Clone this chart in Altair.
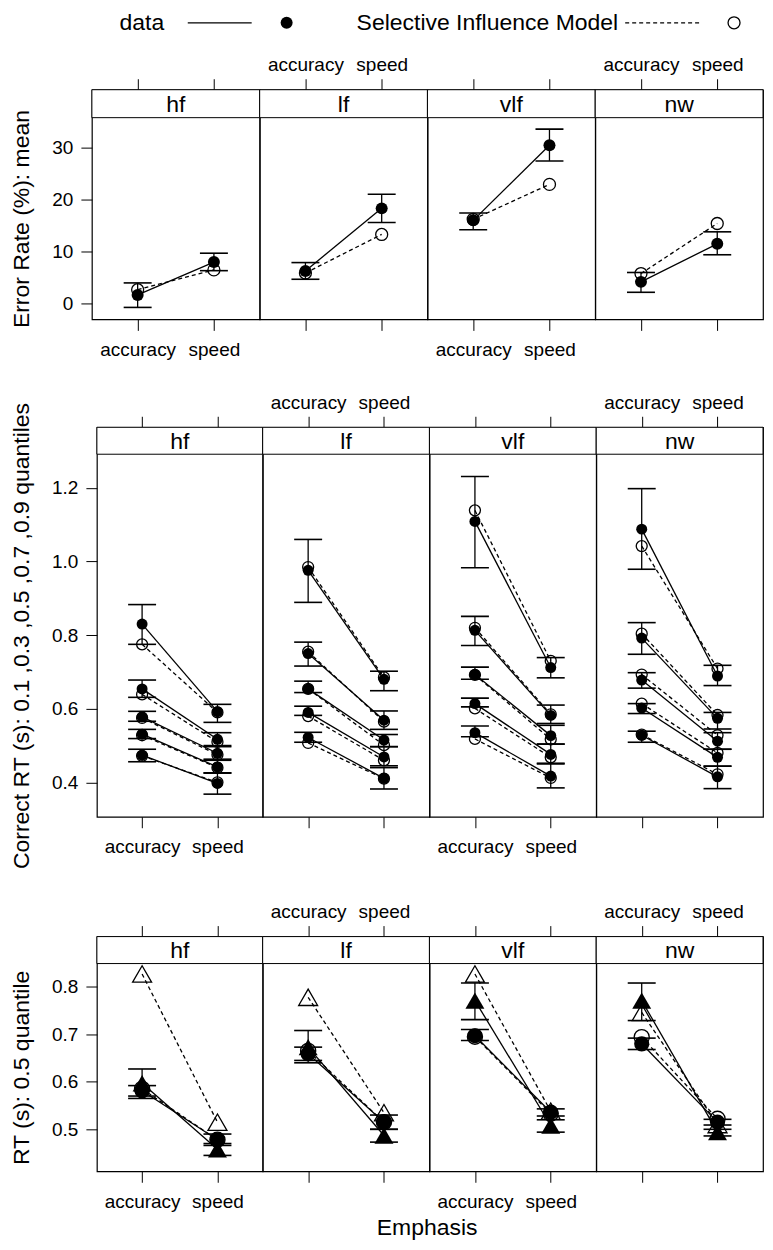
import altair as alt
import pandas as pd

# ---------------- categories and labels ----------------
PANELS = ["hf", "lf", "vlf", "nw"]
EMPHASIS = ["accuracy", "speed"]
QUANTILES = ["0.1", "0.3", "0.5", "0.7", "0.9"]
MEDIAN_SETS = ["set 1", "set 2"]          # drawn as circles / triangles
LEGEND_LABELS = ["data", "Selective Influence Model"]
Y_TITLES = ["Error Rate (%): mean",
            "Correct RT (s): 0.1 ,0.3 ,0.5 ,0.7 ,0.9 quantiles",
            "RT (s): 0.5 quantile"]
X_TITLE = "Emphasis"
ERR_TICKS = [0, 10, 20, 30]
RT_TICKS = [0.4, 0.6, 0.8, 1.0, 1.2]
MED_TICKS = [0.5, 0.6, 0.7, 0.8]

# ---------------- row 1: error rate (%) by panel ----------------
ERR_DATA_ACC = [1.7, 6.3, 16.0, 4.2]
ERR_DATA_SPD = [8.0, 18.3, 30.4, 11.5]
ERR_MODEL_ACC = [2.7, 5.9, 16.2, 5.8]
ERR_MODEL_SPD = [6.5, 13.3, 22.9, 15.4]
ERR_LO_ACC = [-0.7, 4.7, 14.2, 2.2]
ERR_HI_ACC = [4.0, 7.9, 17.4, 6.0]
ERR_LO_SPD = [6.35, 15.6, 27.4, 9.4]
ERR_HI_SPD = [9.7, 21.0, 33.5, 13.8]

# ---------------- row 2: correct RT quantiles (per panel, 0.1..0.9) ----------------
RT_DATA_ACC = [[0.474, 0.531, 0.578, 0.654, 0.830],
               [0.522, 0.590, 0.654, 0.750, 0.976],
               [0.535, 0.614, 0.693, 0.813, 1.109],
               [0.528, 0.602, 0.678, 0.792, 1.088]]
RT_DATA_SPD = [[0.397, 0.442, 0.479, 0.517, 0.592],
               [0.411, 0.469, 0.515, 0.569, 0.680],
               [0.417, 0.476, 0.527, 0.582, 0.712],
               [0.415, 0.468, 0.512, 0.574, 0.689]]
RT_MODEL_ACC = [[0.472, 0.528, 0.575, 0.639, 0.775],
                [0.507, 0.580, 0.654, 0.755, 0.985],
                [0.518, 0.601, 0.692, 0.820, 1.139],
                [0.530, 0.614, 0.693, 0.804, 1.042]]
RT_MODEL_SPD = [[0.400, 0.440, 0.475, 0.510, 0.590],
                [0.410, 0.460, 0.501, 0.565, 0.685],
                [0.412, 0.468, 0.517, 0.585, 0.730],
                [0.422, 0.480, 0.528, 0.583, 0.709]]
RT_LO_ACC = [[0.456, 0.519, 0.566, 0.631, 0.775],
             [0.509, 0.582, 0.644, 0.716, 0.889],
             [0.524, 0.605, 0.680, 0.772, 0.983],
             [0.509, 0.587, 0.656, 0.748, 0.979]]
RT_HI_ACC = [[0.490, 0.544, 0.593, 0.678, 0.883],
             [0.536, 0.607, 0.675, 0.781, 1.060],
             [0.553, 0.629, 0.713, 0.851, 1.231],
             [0.539, 0.614, 0.698, 0.834, 1.198]]
RT_LO_SPD = [[0.368, 0.425, 0.463, 0.500, 0.563],
             [0.382, 0.445, 0.497, 0.544, 0.649],
             [0.385, 0.452, 0.504, 0.560, 0.684],
             [0.383, 0.444, 0.490, 0.545, 0.663]]
RT_HI_SPD = [[0.426, 0.460, 0.497, 0.535, 0.612],
             [0.440, 0.497, 0.530, 0.594, 0.702],
             [0.450, 0.504, 0.555, 0.610, 0.739],
             [0.444, 0.490, 0.535, 0.590, 0.718]]

# ---------------- row 3: median RT (per set, per panel) ----------------
MED_DATA_ACC = [[0.581, 0.659, 0.697, 0.680], [0.597, 0.673, 0.771, 0.771]]
MED_DATA_SPD = [[0.478, 0.515, 0.536, 0.515], [0.458, 0.487, 0.508, 0.494]]
MED_MODEL_ACC = [[0.585, 0.665, 0.695, 0.694], [0.827, 0.778, 0.827, 0.746]]
MED_MODEL_SPD = [[0.478, 0.515, 0.533, 0.522], [0.515, 0.535, 0.538, 0.510]]
MED_LO_ACC = [[0.570, 0.645, 0.687, 0.668], [0.565, 0.640, 0.731, 0.729]]
MED_HI_ACC = [[0.592, 0.673, 0.710, 0.692], [0.627, 0.708, 0.808, 0.808]]
MED_LO_SPD = [[0.466, 0.500, 0.528, 0.509], [0.445, 0.473, 0.494, 0.486]]
MED_HI_SPD = [[0.490, 0.530, 0.543, 0.521], [0.470, 0.500, 0.520, 0.500]]


def rec(panel, emph, series, source, value, lo=None, hi=None):
    return dict(panel=panel, emphasis=emph, series=series, source=source,
                value=value, lo=lo, hi=hi)


r1 = []
for i, p in enumerate(PANELS):
    r1.append(rec(p, "accuracy", "mean", "data", ERR_DATA_ACC[i], ERR_LO_ACC[i], ERR_HI_ACC[i]))
    r1.append(rec(p, "speed", "mean", "data", ERR_DATA_SPD[i], ERR_LO_SPD[i], ERR_HI_SPD[i]))
    r1.append(rec(p, "accuracy", "mean", "model", ERR_MODEL_ACC[i]))
    r1.append(rec(p, "speed", "mean", "model", ERR_MODEL_SPD[i]))
df1 = pd.DataFrame(r1)

r2 = []
for i, p in enumerate(PANELS):
    for j, q in enumerate(QUANTILES):
        r2.append(rec(p, "accuracy", q, "data", RT_DATA_ACC[i][j], RT_LO_ACC[i][j], RT_HI_ACC[i][j]))
        r2.append(rec(p, "speed", q, "data", RT_DATA_SPD[i][j], RT_LO_SPD[i][j], RT_HI_SPD[i][j]))
        r2.append(rec(p, "accuracy", q, "model", RT_MODEL_ACC[i][j]))
        r2.append(rec(p, "speed", q, "model", RT_MODEL_SPD[i][j]))
df2 = pd.DataFrame(r2)

r3 = []
for k, s in enumerate(MEDIAN_SETS):
    for i, p in enumerate(PANELS):
        r3.append(rec(p, "accuracy", s, "data", MED_DATA_ACC[k][i], MED_LO_ACC[k][i], MED_HI_ACC[k][i]))
        r3.append(rec(p, "speed", s, "data", MED_DATA_SPD[k][i], MED_LO_SPD[k][i], MED_HI_SPD[k][i]))
        r3.append(rec(p, "accuracy", s, "model", MED_MODEL_ACC[k][i]))
        r3.append(rec(p, "speed", s, "model", MED_MODEL_SPD[k][i]))
df3 = pd.DataFrame(r3)

ROWS = [
    dict(df=df1, widths=[168, 168, 168, 168], height=230, strip=28,
         domain=[-3.0, 35.7], ticks=ERR_TICKS, fmt="d", ytitle=Y_TITLES[0],
         ext=41, tpad=17, size=144, shapes=False, spacer=0),
    dict(df=df2, widths=[166, 167, 167, 167], height=390, strip=27,
         domain=[0.3066, 1.2915], ticks=RT_TICKS, fmt=".1f", ytitle=Y_TITLES[1],
         ext=46, tpad=17, size=121, shapes=False, spacer=5),
    dict(df=df3, widths=[166, 167, 167, 167], height=235, strip=27,
         domain=[0.4116, 0.849], ticks=MED_TICKS, fmt=".1f", ytitle=Y_TITLES[2],
         ext=46, tpad=17, size=230, shapes=True, spacer=5),
]

LW = 1.3
TICK_LEN = 11
LABEL_FS = 19
BIG_FS = 23


def key_layers():
    """lattice-style key drawn above the first panel of the top row"""
    one = pd.DataFrame({"k": [0]})
    ly = -67
    return [
        alt.Chart(pd.DataFrame({"label": [LEGEND_LABELS[0]]})).mark_text(
            fontSize=BIG_FS, color="black").encode(text="label:N", x=alt.value(50), y=alt.value(ly)),
        alt.Chart(one).mark_rule(color="black", strokeWidth=LW).encode(
            x=alt.value(96), x2=alt.value(160), y=alt.value(ly)),
        alt.Chart(one).mark_point(filled=True, color="black", opacity=1, shape="circle", size=144).encode(
            x=alt.value(195), y=alt.value(ly)),
        alt.Chart(pd.DataFrame({"label": [LEGEND_LABELS[1]]})).mark_text(
            fontSize=BIG_FS, color="black").encode(text="label:N", x=alt.value(396), y=alt.value(ly)),
        alt.Chart(one).mark_rule(color="black", strokeWidth=LW, strokeDash=[4, 3]).encode(
            x=alt.value(534), x2=alt.value(611), y=alt.value(ly)),
        alt.Chart(one).mark_point(filled=False, color="black", opacity=1, strokeWidth=LW, shape="circle",
                                  size=144).encode(x=alt.value(643), y=alt.value(ly)),
    ]


def make_panel(cfg, idx, with_key=False):
    W = cfg["widths"][idx]
    H = cfg["height"]
    S = cfg["strip"]
    name = PANELS[idx]
    d = cfg["df"][cfg["df"]["panel"] == name]
    dd = d[d["source"] == "data"]
    mm = d[d["source"] == "model"]

    xs = alt.Scale(type="point", domain=EMPHASIS, padding=0.6)
    ys = alt.Scale(domain=cfg["domain"], range=[H, S], nice=False, zero=False)
    if idx == 0:
        yax = alt.Axis(orient="left", values=cfg["ticks"], format=cfg["fmt"],
                       title=cfg["ytitle"], titleFontSize=BIG_FS, titleFontWeight="normal",
                       titlePadding=cfg["tpad"], titleLimit=1000,
                       labelFontSize=LABEL_FS, labelPadding=8, labelOverlap=False,
                       tickSize=TICK_LEN, tickColor="black", tickWidth=1,
                       domain=False, grid=False,
                       minExtent=cfg["ext"], maxExtent=cfg["ext"])
    else:
        yax = None
    xb = alt.Axis(orient="bottom", title=None, labels=(idx % 2 == 0), labelAngle=0,
                  labelFontSize=LABEL_FS, labelPadding=10, labelOverlap=False,
                  tickSize=TICK_LEN, tickColor="black", tickWidth=1, domain=False, grid=False)
    xt = alt.Axis(orient="top", title=None, labels=(idx % 2 == 1), labelAngle=0,
                  labelFontSize=LABEL_FS, labelPadding=4, labelOverlap=False,
                  tickSize=TICK_LEN, tickColor="black", tickWidth=1, domain=False, grid=False)

    strip_df = pd.DataFrame({"panel": [name]})
    strip_rect = alt.Chart(strip_df).mark_rect(fill="white", stroke="black", strokeWidth=1).encode(
        x=alt.value(0), x2=alt.value(W), y=alt.value(0), y2=alt.value(S))
    strip_text = alt.Chart(strip_df).mark_text(fontSize=BIG_FS, color="black").encode(
        text="panel:N", x=alt.value(W / 2), y=alt.value(S / 2 + 1))

    err_rule = alt.Chart(dd).mark_rule(color="black", strokeWidth=LW).encode(
        x=alt.X("emphasis:N", scale=xs, axis=xb),
        y=alt.Y("lo:Q", scale=ys, axis=yax),
        y2="hi:Q")
    caps = alt.Chart(dd).transform_fold(["lo", "hi"], as_=["cap", "capval"]).mark_tick(
        color="black", size=28, thickness=1.6, orient="horizontal", opacity=1).encode(
        x=alt.X("emphasis:N", scale=xs, axis=xt),
        y=alt.Y("capval:Q", scale=ys, axis=yax))

    enc = dict(x=alt.X("emphasis:N", scale=xs, axis=None),
               y=alt.Y("value:Q", scale=ys, axis=yax),
               detail="series:N")
    model_line = alt.Chart(mm).mark_line(color="black", strokeWidth=LW, strokeDash=[4, 3]).encode(**enc)
    data_line = alt.Chart(dd).mark_line(color="black", strokeWidth=LW).encode(**enc)

    penc = dict(x=alt.X("emphasis:N", scale=xs, axis=None),
                y=alt.Y("value:Q", scale=ys, axis=yax))
    if cfg["shapes"]:
        penc["shape"] = alt.Shape("series:N", scale=alt.Scale(domain=MEDIAN_SETS,
                                  range=["circle", "triangle-up"]), legend=None)
        penc["size"] = alt.Size("series:O", scale=alt.Scale(domain=MEDIAN_SETS,
                                range=[cfg["size"], 360]), legend=None)
        model_pts = alt.Chart(mm).mark_point(filled=False, color="black", strokeWidth=LW,
                                             opacity=1).encode(**penc)
        data_pts = alt.Chart(dd).mark_point(filled=True, color="black", opacity=1).encode(**penc)
    else:
        model_pts = alt.Chart(mm).mark_point(filled=False, color="black", strokeWidth=LW,
                                             opacity=1, shape="circle", size=cfg["size"]).encode(**penc)
        data_pts = alt.Chart(dd).mark_point(filled=True, color="black", opacity=1,
                                            shape="circle", size=cfg["size"]).encode(**penc)

    layers = [strip_rect, strip_text, err_rule, caps, model_line, data_line, model_pts, data_pts]
    if with_key:
        layers += key_layers()
    return alt.layer(*layers).resolve_axis(x="independent").properties(width=W, height=H)


def make_row(r, **kw):
    cfg = ROWS[r]
    cells = []
    if cfg["spacer"]:
        cells.append(alt.Chart(pd.DataFrame({"k": [0]})).mark_point(opacity=0).encode(
            x=alt.value(0), y=alt.value(cfg["height"] / 2)).properties(
            width=cfg["spacer"], height=cfg["height"],
            view=alt.ViewConfig(stroke="transparent", strokeWidth=0)))
    cells += [make_panel(cfg, i, with_key=(r == 0 and i == 0)) for i in range(4)]
    return alt.hconcat(*cells, spacing=0, bounds="flush", **kw)


row1 = make_row(0)
row2 = make_row(1)
row3 = make_row(2, title=alt.TitleParams(X_TITLE, orient="bottom", anchor="middle", frame="bounds",
                                          dx=40, fontSize=BIG_FS, fontWeight="normal", offset=5))

chart = alt.vconcat(row1, row2, row3, spacing=32).properties(
    padding={"left": 2, "top": 2, "right": 0, "bottom": 0}
).configure(font="Liberation Sans").configure_view(
    stroke="black", strokeWidth=1.2
).configure_axis(labelColor="black", titleColor="black").configure_title(color="black")

chart.save("out.html", embed_options={"renderer": "svg", "actions": False})
